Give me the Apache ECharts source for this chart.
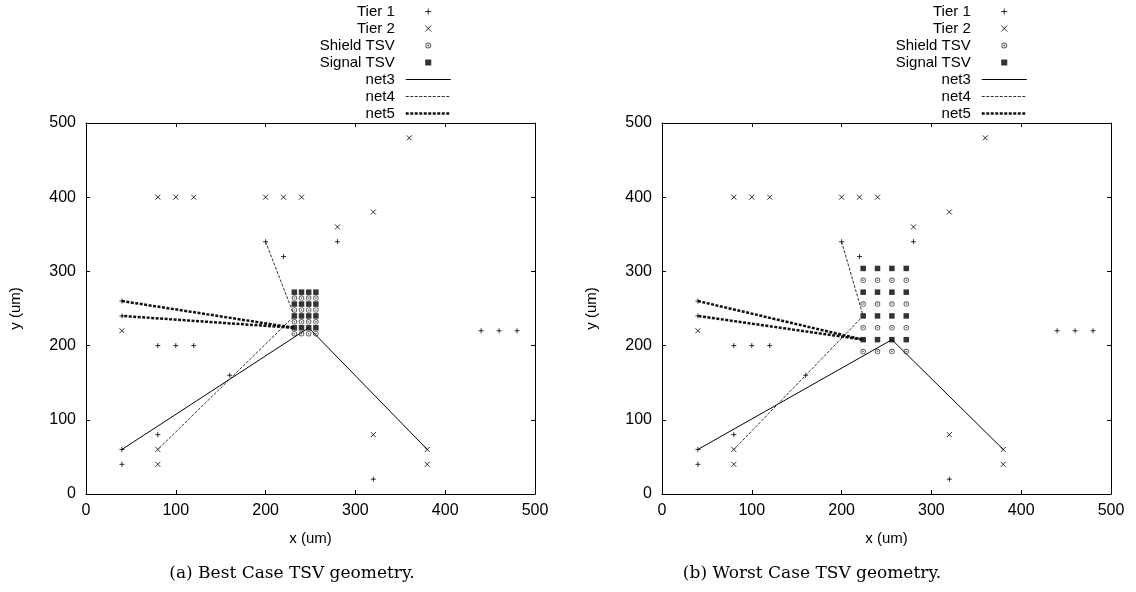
<!DOCTYPE html>
<html>
<head>
<meta charset="utf-8">
<script src="https://cdn.jsdelivr.net/npm/echarts@6/dist/echarts.min.js"></script>
<style>
html,body{margin:0;padding:0;background:#fff;}
#chart{width:1136px;height:592px;}
</style>
</head>
<body>
<div id="chart"></div>
<script>
// ---- data ----
const axisTicks = [0, 100, 200, 300, 400, 500];
const legendNames = ['Tier 1', 'Tier 2', 'Shield TSV', 'Signal TSV', 'net3', 'net4', 'net5'];
const captions = ['(a) Best Case TSV geometry.', '(b) Worst Case TSV geometry.'];

const tier1 = [[200,340],[220,320],[280,340],[40,260],[40,240],[80,200],[100,200],[120,200],
  [160,160],[80,80],[40,60],[40,40],[320,20],[440,220],[460,220],[480,220]];
const tier2 = [[360,480],[80,400],[100,400],[120,400],[200,400],[220,400],[240,400],[320,380],
  [280,360],[40,220],[320,80],[380,60],[380,40],[80,60],[80,40]];

// Best case (a)
const shieldA = [[232,264],[240,264],[248,264],[256,264],[232,248],[240,248],[248,248],[256,248],
  [232,232],[240,232],[248,232],[256,232],[232,216],[240,216],[248,216],[256,216]];
const signalA = [[232,272],[240,272],[248,272],[256,272],[232,256],[240,256],[248,256],[256,256],
  [232,240],[240,240],[248,240],[256,240],[232,224],[240,224],[248,224],[256,224]];
const net3A = [[40,60],[248,224],[380,60]];
const net4A = [[200,340],[232,240],[80,60]];
const net5A = [[40,260],[232,224],[40,240]];

// Worst case (b)
const shieldB = [[224,288],[240,288],[256,288],[272,288],[224,256],[240,256],[256,256],[272,256],
  [224,224],[240,224],[256,224],[272,224],[224,192],[240,192],[256,192],[272,192]];
const signalB = [[224,304],[240,304],[256,304],[272,304],[224,272],[240,272],[256,272],[272,272],
  [224,240],[240,240],[256,240],[272,240],[224,208],[240,208],[256,208],[272,208]];
const net3B = [[40,60],[256,208],[380,60]];
const net4B = [[200,340],[224,240],[80,60]];
const net5B = [[40,260],[224,208],[40,240]];

// ---- styling ----
const FONT = 'Liberation Sans';
const PLUS = 'path://M0,5L10,5M5,0L5,10';
const CROSS = 'path://M0,0L10,10M10,0L0,10';
const SQUARE = 'path://M0,0L10,0L10,10L0,10Z';
const RING = 'path://M0,5A5,5 0 1,1 10,5A5,5 0 1,1 0,5ZM1.6,5A3.4,3.4 0 1,0 8.4,5A3.4,3.4 0 1,0 1.6,5ZM3.5,5A1.5,1.5 0 1,1 6.5,5A1.5,1.5 0 1,1 3.5,5Z';

const grids = [
  {left: 86, top: 123, width: 449, height: 371},
  {left: 662, top: 123, width: 449, height: 371}
];

function xAxes(gi) {
  const base = {
    gridIndex: gi, type: 'value', min: axisTicks[0], max: axisTicks[axisTicks.length - 1], interval: 100,
    axisLine: {show: true, onZero: false, lineStyle: {color: '#000', width: 1}},
    axisTick: {show: true, inside: true, length: 4, lineStyle: {color: '#000'}},
    splitLine: {show: false}
  };
  return [
    Object.assign({}, base, {
      position: 'bottom',
      axisLabel: {color: '#000', fontSize: 16, fontFamily: FONT, margin: 9},
      name: 'x (um)', nameLocation: 'middle', nameGap: 37,
      nameTextStyle: {color: '#000', fontSize: 15, fontFamily: FONT}
    }),
    Object.assign({}, base, {position: 'top', axisLabel: {show: false}})
  ];
}
function yAxes(gi) {
  const base = {
    gridIndex: gi, type: 'value', min: axisTicks[0], max: axisTicks[axisTicks.length - 1], interval: 100,
    axisLine: {show: true, onZero: false, lineStyle: {color: '#000', width: 1}},
    axisTick: {show: true, inside: true, length: 4, lineStyle: {color: '#000'}},
    splitLine: {show: false}
  };
  return [
    Object.assign({}, base, {
      position: 'left',
      axisLabel: {color: '#000', fontSize: 16, fontFamily: FONT, margin: 10},
      name: 'y (um)', nameLocation: 'middle', nameGap: 63, nameRotate: 90,
      nameTextStyle: {color: '#000', fontSize: 15, fontFamily: FONT}
    }),
    Object.assign({}, base, {position: 'right', axisLabel: {show: false}})
  ];
}

function seriesFor(ai, t1, t2, sh, sg, n3, n4, n5) {
  const common = {xAxisIndex: ai, yAxisIndex: ai, silent: true, animation: false};
  return [
    Object.assign({}, common, {name: 'Tier 1', type: 'scatter', data: t1, symbol: PLUS, symbolSize: 5,
      itemStyle: {color: 'rgba(0,0,0,0)', borderColor: '#000', borderWidth: 1}}),
    Object.assign({}, common, {name: 'Tier 2', type: 'scatter', data: t2, symbol: CROSS, symbolSize: 5,
      itemStyle: {color: 'rgba(0,0,0,0)', borderColor: '#000', borderWidth: 1}}),
    Object.assign({}, common, {name: 'Shield TSV', type: 'scatter', data: sh, symbol: RING, symbolSize: 5.5,
      itemStyle: {color: '#333'}}),
    Object.assign({}, common, {name: 'Signal TSV', type: 'scatter', data: sg, symbol: SQUARE, symbolSize: 5.5,
      itemStyle: {color: '#000'}}),
    Object.assign({}, common, {name: 'net3', type: 'line', data: n3, symbol: 'none',
      lineStyle: {color: '#000', width: 1, type: 'solid'}, itemStyle: {color: '#000'}}),
    Object.assign({}, common, {name: 'net4', type: 'line', data: n4, symbol: 'none',
      lineStyle: {color: '#333', width: 1, type: [3, 1.5]}, itemStyle: {color: '#333'}}),
    Object.assign({}, common, {name: 'net5', type: 'line', data: n5, symbol: 'none',
      lineStyle: {color: '#111', width: 2.5, type: [3, 1.5]}, itemStyle: {color: '#111'}})
  ];
}

function legendFor(rightPx) {
  const hide = {color: 'rgba(0,0,0,0)', borderWidth: 0};
  return {
    orient: 'vertical', align: 'right', right: rightPx, top: 3,
    itemWidth: 45, itemHeight: 6, itemGap: 0, padding: 0, selectedMode: false,
    textStyle: {color: '#000', fontSize: 15, fontFamily: FONT, lineHeight: 17, padding: [0, 6, 0, 0]},
    data: [
      {name: legendNames[0], itemStyle: {borderWidth: 1}},
      {name: legendNames[1], itemStyle: {borderWidth: 1}},
      {name: legendNames[2]},
      {name: legendNames[3]},
      {name: legendNames[4], itemStyle: hide, lineStyle: {width: 1}},
      {name: legendNames[5], itemStyle: hide, lineStyle: {width: 1}},
      {name: legendNames[6], itemStyle: hide, lineStyle: {width: 2.5}}
    ]
  };
}

const chart = echarts.init(document.getElementById('chart'), null, {renderer: 'canvas'});
chart.setOption({
  animation: false,
  backgroundColor: '#fff',
  grid: grids,
  xAxis: xAxes(0).concat(xAxes(1)),
  yAxis: yAxes(0).concat(yAxes(1)),
  legend: [legendFor(1136 - 452), legendFor(1136 - 1028)],
  graphic: [
    {type: 'text', x: 292, y: 574, style: {text: captions[0], align: 'center', verticalAlign: 'middle',
      fontSize: 17, fontFamily: 'DejaVu Serif', fill: '#000'}},
    {type: 'text', x: 812, y: 574, style: {text: captions[1], align: 'center', verticalAlign: 'middle',
      fontSize: 17, fontFamily: 'DejaVu Serif', fill: '#000'}}
  ],
  series: seriesFor(0, tier1, tier2, shieldA, signalA, net3A, net4A, net5A)
    .concat(seriesFor(2, tier1, tier2, shieldB, signalB, net3B, net4B, net5B))
});
</script>
</body>
</html>
